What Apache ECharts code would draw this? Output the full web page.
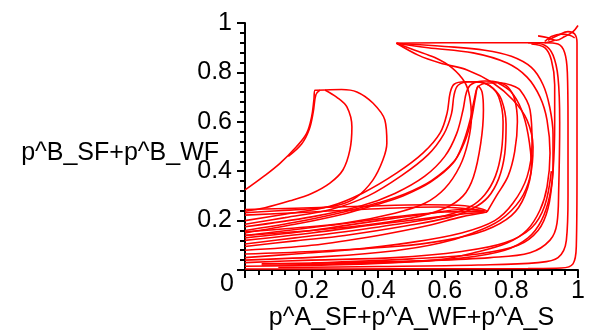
<!DOCTYPE html>
<html>
<head>
<meta charset="utf-8">
<script src="https://cdn.jsdelivr.net/npm/echarts@6/dist/echarts.min.js"></script>
<style>
  html, body { margin: 0; padding: 0; background: #ffffff; }
  #chart { width: 591px; height: 335px; }
</style>
</head>
<body>
<div id="chart"></div>
<script>
// ---- tick labels ----
const xTickLabels = ['', '0.2', '0.4', '0.6', '0.8', '1'];
const yTickLabels = ['', '0.2', '0.4', '0.6', '0.8', '1'];
const xName = 'p^A_SF+p^A_WF+p^A_S';
const yName = 'p^B_SF+p^B_WF';

// ---- trajectories (x, y) ----
const c1LegA = [[0,0.324],[0.055,0.378],[0.105,0.432],[0.155,0.5],[0.185,0.553],[0.2,0.62],[0.207,0.69],[0.21,0.728],[0.24,0.729]];
const c1LegB = [[0.13,0.46],[0.17,0.51],[0.193,0.57],[0.205,0.64],[0.213,0.71],[0.225,0.728]];
const c1Inner = [[0.24,0.729],[0.275,0.70],[0.306,0.66],[0.321,0.579],[0.315,0.486],[0.294,0.405],[0.255,0.352],[0.2,0.31],[0.135,0.28],[0.06,0.252],[0,0.238]];
const c1Outer = [[0.24,0.729],[0.29,0.731],[0.336,0.721],[0.384,0.676],[0.42,0.607],[0.426,0.514],[0.414,0.445],[0.384,0.364],[0.336,0.296],[0.285,0.264],[0.2,0.248],[0.1,0.24],[0,0.232]];

const c2LegA = [[0,0.2],[0.12,0.226],[0.255,0.258],[0.354,0.312],[0.456,0.393],[0.535,0.474],[0.586,0.555],[0.607,0.636],[0.616,0.717],[0.628,0.752],[0.66,0.762],[0.705,0.76],[0.736,0.745],[0.762,0.70],[0.775,0.6],[0.77,0.48],[0.752,0.38],[0.72,0.305],[0.675,0.255],[0.6,0.22],[0.48,0.19],[0.3,0.155],[0.15,0.13],[0,0.105]];
const c2LegB = [[0,0.185],[0.12,0.212],[0.26,0.246],[0.37,0.3],[0.47,0.382],[0.55,0.467],[0.597,0.55],[0.62,0.632],[0.628,0.71],[0.64,0.748],[0.675,0.762],[0.715,0.758],[0.745,0.735],[0.77,0.69],[0.784,0.59],[0.78,0.47],[0.762,0.37],[0.73,0.295],[0.685,0.25],[0.61,0.212],[0.49,0.18],[0.3,0.14],[0.15,0.118],[0,0.095]];
const c2Thick1 = [[0,0.15],[0.15,0.185],[0.3,0.228],[0.396,0.265],[0.474,0.3],[0.556,0.355],[0.625,0.433],[0.655,0.514],[0.676,0.607],[0.69,0.70],[0.70,0.742],[0.73,0.757],[0.765,0.758],[0.8,0.748],[0.826,0.729],[0.856,0.648],[0.862,0.514],[0.847,0.377],[0.805,0.271],[0.75,0.2],[0.65,0.15],[0.5,0.112],[0.3,0.08],[0.15,0.065],[0,0.05]];
const c2Thick2 = [[0,0.16],[0.15,0.193],[0.3,0.236],[0.4,0.272],[0.48,0.308],[0.56,0.362],[0.628,0.44],[0.66,0.52],[0.68,0.61],[0.692,0.70],[0.70,0.745],[0.712,0.72],[0.716,0.648],[0.708,0.514],[0.686,0.377],[0.655,0.3],[0.6,0.25],[0.5,0.21],[0.35,0.18],[0.2,0.16],[0,0.14]];
const c2Mid = [[0,0.175],[0.2,0.215],[0.35,0.26],[0.45,0.31],[0.54,0.38],[0.6,0.46],[0.635,0.55],[0.655,0.65],[0.665,0.72],[0.68,0.752],[0.72,0.765],[0.76,0.76],[0.79,0.74],[0.81,0.69],[0.818,0.6],[0.81,0.48],[0.79,0.38],[0.755,0.3],[0.727,0.235]];

const s1 = [[0,0.245],[0.15,0.25],[0.35,0.258],[0.55,0.264],[0.66,0.26],[0.727,0.237],[0.66,0.228],[0.55,0.21],[0.4,0.185],[0.2,0.15],[0,0.12]];
const s2 = [[0,0.222],[0.2,0.235],[0.4,0.248],[0.58,0.255],[0.72,0.238],[0.6,0.235],[0.45,0.215],[0.25,0.18],[0,0.14]];
const s3 = [[0,0.08],[0.2,0.1],[0.4,0.14],[0.55,0.18],[0.65,0.215],[0.727,0.235]];
const s4 = [[0,0.13],[0.2,0.16],[0.4,0.2],[0.55,0.228],[0.65,0.245],[0.72,0.24]];

const topLine = [[0.455,0.918],[0.6,0.92],[0.8,0.92],[0.9,0.92],[0.93,0.93]];
const t1 = [[0.455,0.918],[0.55,0.9],[0.685,0.879],[0.787,0.838],[0.847,0.781],[0.886,0.70],[0.907,0.607],[0.916,0.474],[0.907,0.336],[0.886,0.243],[0.847,0.162],[0.787,0.109],[0.685,0.069],[0.586,0.042],[0.45,0.03],[0.25,0.02],[0,0.015]];
const t2 = [[0.455,0.918],[0.52,0.87],[0.586,0.838],[0.667,0.81],[0.745,0.757],[0.805,0.688],[0.847,0.607],[0.865,0.498],[0.856,0.377],[0.826,0.283],[0.766,0.202],[0.685,0.15],[0.586,0.109],[0.45,0.078],[0.25,0.055],[0,0.04]];
const t3 = [[0.455,0.918],[0.51,0.89],[0.57,0.86],[0.62,0.82],[0.66,0.76],[0.675,0.70],[0.68,0.62],[0.67,0.52],[0.645,0.42],[0.6,0.33],[0.54,0.27],[0.45,0.23],[0.3,0.19],[0.15,0.17],[0,0.155]];
const t4 = [[0.455,0.918],[0.6,0.905],[0.72,0.89],[0.8,0.865],[0.86,0.82],[0.895,0.75],[0.915,0.66],[0.925,0.55],[0.925,0.42],[0.915,0.3],[0.89,0.2],[0.85,0.13],[0.78,0.08],[0.65,0.048],[0.45,0.032],[0.2,0.022],[0.05,0.02]];

const r1 = [[0,0.004],[0.3,0.004],[0.6,0.005],[0.85,0.006],[0.95,0.008],[0.985,0.025],[0.995,0.1],[0.997,0.4],[0.997,0.75],[0.997,0.92],[0.99,0.955],[0.97,0.965],[0.94,0.95],[0.91,0.93]];
const r2 = [[0.1,0.01],[0.4,0.014],[0.7,0.02],[0.88,0.03],[0.94,0.05],[0.965,0.12],[0.97,0.3],[0.97,0.6],[0.968,0.8],[0.96,0.88],[0.94,0.915],[0.9,0.92]];
const r3 = [[0.05,0.025],[0.3,0.03],[0.55,0.038],[0.736,0.05],[0.856,0.07],[0.916,0.121],[0.937,0.19],[0.942,0.324],[0.945,0.6],[0.94,0.78],[0.925,0.87],[0.9,0.91],[0.85,0.92]];
const r4 = [[0.2,0.028],[0.5,0.045],[0.7,0.065],[0.82,0.1],[0.88,0.16],[0.91,0.25],[0.925,0.4],[0.93,0.6],[0.93,0.75],[0.92,0.85],[0.9,0.9],[0.86,0.915]];
const topSquiggle = [[0.88,0.948],[0.91,0.94],[0.935,0.93],[0.96,0.945],[0.985,0.965],[1.0,0.99]];
const topLoop = [[0.9,0.925],[0.92,0.945],[0.95,0.955],[0.975,0.95],[0.99,0.94]];

const b1 = [[0,0.065],[0.2,0.075],[0.45,0.095],[0.6,0.12],[0.72,0.16],[0.8,0.22],[0.84,0.3],[0.86,0.42],[0.85,0.55],[0.83,0.65],[0.8,0.72],[0.76,0.757]];
const b2 = [[0,0.03],[0.2,0.04],[0.45,0.05],[0.65,0.075],[0.78,0.11],[0.86,0.17],[0.9,0.26],[0.92,0.4]];

const curves = [c1LegA, c1LegB, c1Inner, c1Outer, c2LegA, c2LegB, c2Thick1, c2Thick2, c2Mid,
  s1, s2, s3, s4, topLine, t1, t2, t3, t4, r1, r2, r3, r4, topSquiggle, topLoop, b1, b2];

const FONT = '"Liberation Sans", Arial, sans-serif';
const chart = echarts.init(document.getElementById('chart'), null, { renderer: 'canvas' });

const axisCommon = {
  type: 'value', min: 0, max: 1, interval: 0.2,
  splitLine: { show: false },
  nameMoveOverlap: false,
  axisLine: { show: true, lineStyle: { color: '#000', width: 2 } },
  axisTick: { show: true, length: 8, lineStyle: { color: '#000', width: 2 } },
  minorTick: { show: true, splitNumber: 5, length: 5, lineStyle: { color: '#000', width: 2 } },
  minorSplitLine: { show: false }
};

chart.setOption({
  animation: false,
  backgroundColor: '#ffffff',
  grid: { left: 245, right: 13, top: 23, bottom: 65, containLabel: false, outerBoundsMode: 'none' },
  xAxis: Object.assign({}, axisCommon, {
    position: 'bottom',
    name: xName, nameLocation: 'middle', nameGap: 36,
    nameTextStyle: { color: '#000', fontSize: 25, fontFamily: FONT },
    axisLabel: { color: '#000', fontSize: 25, fontFamily: FONT, margin: 9,
      formatter: (v, i) => xTickLabels[i] }
  }),
  yAxis: Object.assign({}, axisCommon, {
    position: 'left',
    name: yName, nameLocation: 'middle', nameRotate: 0, nameGap: 26,
    nameTextStyle: { color: '#000', fontSize: 25, fontFamily: FONT, align: 'right', verticalAlign: 'top', lineHeight: 13 },
    axisLabel: { color: '#000', fontSize: 25, fontFamily: FONT, margin: 13,
      formatter: (v, i) => yTickLabels[i] }
  }),
  graphic: [{
    type: 'text', left: 220, top: 272,
    style: { text: '0', fill: '#000', font: '25px ' + FONT }
  }],
  series: curves.map((c) => ({
    type: 'line', data: c, showSymbol: false, smooth: 0.35,
    lineStyle: { color: '#ff0000', width: 1.6 }, emphasis: { disabled: true }
  }))
});
</script>
</body>
</html>
